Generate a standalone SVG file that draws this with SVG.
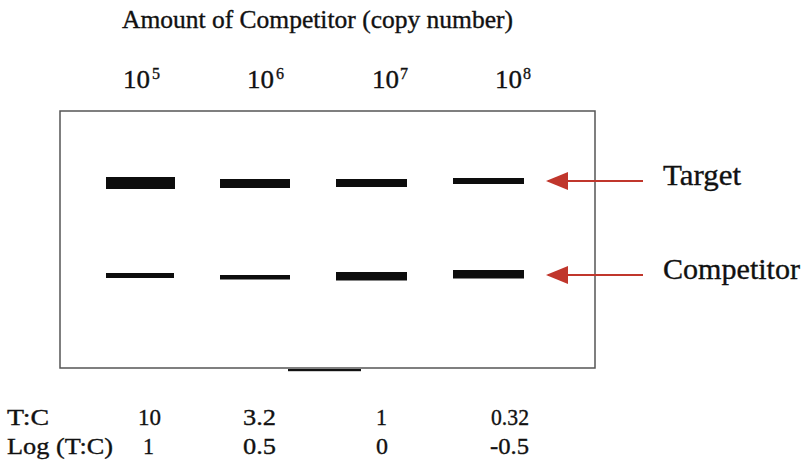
<svg xmlns="http://www.w3.org/2000/svg" width="811" height="464" viewBox="0 0 811 464">
  <style>
    text { font-family: "Liberation Serif", "Times New Roman", serif; fill: #111; stroke: #111; stroke-width: 0.35; }
    .title { font-size: 25px; }
    .exp { font-size: 26px; }
    .sup { font-size: 16px; }
    .label { font-size: 30px; }
    .tbl { font-size: 24px; }
    .band { fill: #0d0d0d; }
    .gel { fill: #fff; stroke: #555; stroke-width: 1.5; }
    .arrow { stroke: #c0362c; stroke-width: 2; fill: none; marker-end: url(#head); }
  </style>
  <defs>
    <marker id="head" viewBox="0 0 22 20" refX="20" refY="10" markerUnits="userSpaceOnUse" markerWidth="22" markerHeight="20" orient="auto">
      <path d="M0,1 L22,10 L0,19 Z" fill="#c0362c"/>
    </marker>
  </defs>

  <rect width="811" height="464" fill="#fff"/>

  <g id="header">
    <text class="title" x="122" y="28" textLength="391" lengthAdjust="spacingAndGlyphs">Amount of Competitor (copy number)</text>
    <text class="exp" x="123" y="88" textLength="27" lengthAdjust="spacingAndGlyphs">10</text>
    <text class="sup" x="152" y="79">5</text>
    <text class="exp" x="247" y="88" textLength="27" lengthAdjust="spacingAndGlyphs">10</text>
    <text class="sup" x="276" y="79">6</text>
    <text class="exp" x="372" y="88" textLength="27" lengthAdjust="spacingAndGlyphs">10</text>
    <text class="sup" x="400" y="79">7</text>
    <text class="exp" x="495" y="88" textLength="27" lengthAdjust="spacingAndGlyphs">10</text>
    <text class="sup" x="523" y="79">8</text>
  </g>

  <g id="gel">
    <rect class="gel" x="60" y="111" width="535" height="257"/>
    <rect x="288" y="369" width="73" height="2.2" fill="#111"/>
  </g>

  <g id="target-bands">
    <rect class="band" x="106" y="177" width="69" height="12"/>
    <rect class="band" x="220" y="179" width="70" height="9"/>
    <rect class="band" x="336" y="179" width="71" height="8"/>
    <rect class="band" x="453" y="178" width="71" height="6"/>
  </g>

  <g id="competitor-bands">
    <rect class="band" x="106" y="273" width="68" height="5"/>
    <rect class="band" x="220" y="275" width="70" height="4.5"/>
    <rect class="band" x="336" y="272" width="71" height="8.5"/>
    <rect class="band" x="453" y="270" width="71" height="8.5"/>
  </g>

  <g id="connectors">
    <line class="arrow" x1="643" y1="181" x2="548" y2="181"/>
    <line class="arrow" x1="643" y1="275" x2="548" y2="275"/>
  </g>

  <g id="target-label">
    <text class="label" x="663" y="185" textLength="78" lengthAdjust="spacingAndGlyphs">Target</text>
  </g>
  <g id="competitor-label">
    <text class="label" x="663" y="279" textLength="137" lengthAdjust="spacingAndGlyphs">Competitor</text>
  </g>

  <g id="ratio-table">
    <text class="tbl" x="7" y="425" textLength="42" lengthAdjust="spacingAndGlyphs">T:C</text>
    <text class="tbl" x="138" y="425" textLength="23" lengthAdjust="spacingAndGlyphs">10</text>
    <text class="tbl" x="243" y="425" textLength="33" lengthAdjust="spacingAndGlyphs">3.2</text>
    <text class="tbl" x="376" y="425" textLength="11" lengthAdjust="spacingAndGlyphs">1</text>
    <text class="tbl" x="491" y="425" textLength="38" lengthAdjust="spacingAndGlyphs">0.32</text>
    <text class="tbl" x="7" y="454" textLength="106" lengthAdjust="spacingAndGlyphs">Log (T:C)</text>
    <text class="tbl" x="143" y="454" textLength="11" lengthAdjust="spacingAndGlyphs">1</text>
    <text class="tbl" x="243" y="454" textLength="33" lengthAdjust="spacingAndGlyphs">0.5</text>
    <text class="tbl" x="376" y="454" textLength="12" lengthAdjust="spacingAndGlyphs">0</text>
    <text class="tbl" x="490" y="454" textLength="39" lengthAdjust="spacingAndGlyphs">-0.5</text>
  </g>
</svg>
